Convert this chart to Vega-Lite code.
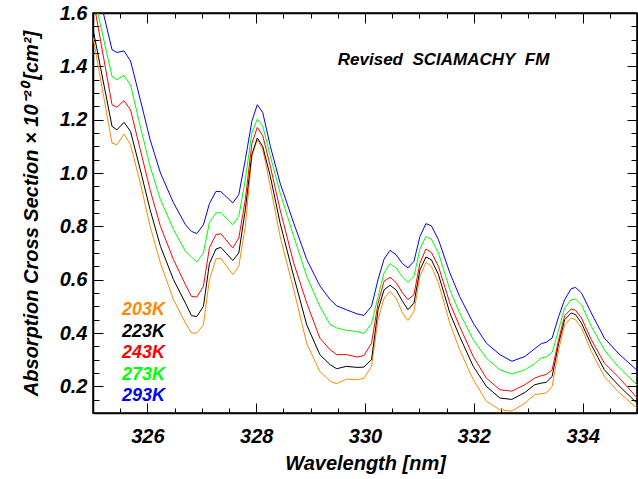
{
  "$schema": "https://vega.github.io/schema/vega-lite/v6.json",
  "autosize": {"type": "none"},
  "padding": {"left": 93, "top": 13, "right": 1, "bottom": 66},
  "width": 544,
  "height": 400,
  "background": "white",
  "config": {
    "view": {"stroke": "black", "strokeWidth": 1.5},
    "axis": {
      "grid": false,
      "domainColor": "black",
      "domainWidth": 1.5,
      "tickColor": "black",
      "tickWidth": 1,
      "labelColor": "black",
      "labelFont": "Liberation Sans",
      "labelFontStyle": "italic",
      "labelFontWeight": "bold",
      "labelFontSize": 20,
      "titleFont": "Liberation Sans",
      "titleFontStyle": "italic",
      "titleFontWeight": "bold",
      "titleFontSize": 20,
      "titleColor": "black"
    }
  },
  "data": {
    "values": [
      {"w": 325.00, "203K": 1.51, "223K": 1.54, "243K": 1.655, "273K": 1.68, "293K": 1.764},
      {"w": 325.35, "203K": 1.112, "223K": 1.175, "243K": 1.256, "273K": 1.362, "293K": 1.462},
      {"w": 325.44, "203K": 1.106, "223K": 1.162, "243K": 1.247, "273K": 1.35, "293K": 1.452},
      {"w": 325.57, "203K": 1.146, "223K": 1.19, "243K": 1.271, "273K": 1.366, "293K": 1.458},
      {"w": 325.69, "203K": 1.106, "223K": 1.156, "243K": 1.237, "273K": 1.33, "293K": 1.42},
      {"w": 325.87, "203K": 0.962, "223K": 1.012, "243K": 1.087, "273K": 1.175, "293K": 1.275},
      {"w": 326.05, "203K": 0.80, "223K": 0.862, "243K": 0.937, "273K": 1.025, "293K": 1.125},
      {"w": 326.24, "203K": 0.662, "223K": 0.725, "243K": 0.80, "273K": 0.90, "293K": 1.0},
      {"w": 326.48, "203K": 0.525, "223K": 0.60, "243K": 0.675, "273K": 0.788, "293K": 0.888},
      {"w": 326.70, "203K": 0.437, "223K": 0.512, "243K": 0.581, "273K": 0.706, "293K": 0.806},
      {"w": 326.81, "203K": 0.40, "223K": 0.465, "243K": 0.537, "273K": 0.685, "293K": 0.781},
      {"w": 326.91, "203K": 0.40, "223K": 0.462, "243K": 0.535, "273K": 0.666, "293K": 0.773},
      {"w": 327.03, "203K": 0.431, "223K": 0.50, "243K": 0.575, "273K": 0.70, "293K": 0.806},
      {"w": 327.14, "203K": 0.60, "223K": 0.66, "243K": 0.72, "273K": 0.815, "293K": 0.885},
      {"w": 327.26, "203K": 0.678, "223K": 0.715, "243K": 0.769, "273K": 0.85, "293K": 0.931},
      {"w": 327.35, "203K": 0.68, "223K": 0.721, "243K": 0.772, "273K": 0.852, "293K": 0.93},
      {"w": 327.57, "203K": 0.619, "223K": 0.672, "243K": 0.719, "273K": 0.806, "293K": 0.888},
      {"w": 327.68, "203K": 0.65, "223K": 0.70, "243K": 0.756, "273K": 0.837, "293K": 0.919},
      {"w": 327.80, "203K": 0.80, "223K": 0.862, "243K": 0.90, "273K": 0.975, "293K": 1.05},
      {"w": 327.92, "203K": 1.06, "223K": 1.07, "243K": 1.11, "273K": 1.15, "293K": 1.194},
      {"w": 328.02, "203K": 1.125, "223K": 1.131, "243K": 1.171, "273K": 1.202, "293K": 1.256},
      {"w": 328.12, "203K": 1.09, "223K": 1.10, "243K": 1.14, "273K": 1.177, "293K": 1.227},
      {"w": 328.26, "203K": 0.95, "223K": 0.987, "243K": 1.025, "273K": 1.062, "293K": 1.10},
      {"w": 328.44, "203K": 0.762, "223K": 0.812, "243K": 0.862, "273K": 0.925, "293K": 0.962},
      {"w": 328.69, "203K": 0.562, "223K": 0.612, "243K": 0.662, "273K": 0.762, "293K": 0.812},
      {"w": 328.93, "203K": 0.36, "223K": 0.43, "243K": 0.512, "273K": 0.612, "293K": 0.675},
      {"w": 329.17, "203K": 0.256, "223K": 0.319, "243K": 0.381, "273K": 0.50, "293K": 0.577},
      {"w": 329.36, "203K": 0.219, "223K": 0.281, "243K": 0.337, "273K": 0.431, "293K": 0.525},
      {"w": 329.48, "203K": 0.21, "223K": 0.266, "243K": 0.319, "273K": 0.419, "293K": 0.502},
      {"w": 329.66, "203K": 0.227, "223K": 0.275, "243K": 0.319, "273K": 0.41, "293K": 0.487},
      {"w": 329.85, "203K": 0.225, "223K": 0.271, "243K": 0.31, "273K": 0.406, "293K": 0.472},
      {"w": 329.98, "203K": 0.23, "223K": 0.272, "243K": 0.315, "273K": 0.398, "293K": 0.466},
      {"w": 330.12, "203K": 0.275, "223K": 0.30, "243K": 0.362, "273K": 0.435, "293K": 0.50},
      {"w": 330.24, "203K": 0.45, "223K": 0.487, "243K": 0.512, "273K": 0.537, "293K": 0.60},
      {"w": 330.35, "203K": 0.531, "223K": 0.562, "243K": 0.594, "273K": 0.625, "293K": 0.677},
      {"w": 330.46, "203K": 0.556, "223K": 0.579, "243K": 0.609, "273K": 0.66, "293K": 0.71},
      {"w": 330.57, "203K": 0.531, "223K": 0.562, "243K": 0.59, "273K": 0.644, "293K": 0.694},
      {"w": 330.69, "203K": 0.475, "223K": 0.519, "243K": 0.55, "273K": 0.61, "293K": 0.66},
      {"w": 330.79, "203K": 0.447, "223K": 0.487, "243K": 0.525, "273K": 0.59, "293K": 0.644},
      {"w": 330.90, "203K": 0.481, "223K": 0.512, "243K": 0.544, "273K": 0.612, "293K": 0.669},
      {"w": 331.01, "203K": 0.612, "223K": 0.637, "243K": 0.662, "273K": 0.715, "293K": 0.762},
      {"w": 331.12, "203K": 0.665, "223K": 0.685, "243K": 0.715, "273K": 0.762, "293K": 0.81},
      {"w": 331.22, "203K": 0.65, "223K": 0.675, "243K": 0.702, "273K": 0.752, "293K": 0.802},
      {"w": 331.35, "203K": 0.587, "223K": 0.619, "243K": 0.65, "273K": 0.70, "293K": 0.75},
      {"w": 331.56, "203K": 0.437, "223K": 0.475, "243K": 0.512, "273K": 0.562, "293K": 0.625},
      {"w": 331.74, "203K": 0.337, "223K": 0.387, "243K": 0.425, "273K": 0.475, "293K": 0.537},
      {"w": 331.99, "203K": 0.225, "223K": 0.275, "243K": 0.312, "273K": 0.375, "293K": 0.437},
      {"w": 332.23, "203K": 0.144, "223K": 0.20, "243K": 0.231, "273K": 0.306, "293K": 0.362},
      {"w": 332.48, "203K": 0.112, "223K": 0.156, "243K": 0.187, "273K": 0.262, "293K": 0.319},
      {"w": 332.70, "203K": 0.107, "223K": 0.151, "243K": 0.182, "273K": 0.246, "293K": 0.294},
      {"w": 332.94, "203K": 0.137, "223K": 0.177, "243K": 0.206, "273K": 0.262, "293K": 0.312},
      {"w": 333.12, "203K": 0.169, "223K": 0.206, "243K": 0.231, "273K": 0.285, "293K": 0.341},
      {"w": 333.24, "203K": 0.172, "223K": 0.212, "243K": 0.24, "273K": 0.306, "293K": 0.36},
      {"w": 333.33, "203K": 0.175, "223K": 0.215, "243K": 0.244, "273K": 0.31, "293K": 0.365},
      {"w": 333.44, "203K": 0.20, "223K": 0.237, "243K": 0.262, "273K": 0.327, "293K": 0.381},
      {"w": 333.56, "203K": 0.337, "223K": 0.362, "243K": 0.375, "273K": 0.412, "293K": 0.462},
      {"w": 333.67, "203K": 0.431, "223K": 0.45, "243K": 0.465, "273K": 0.494, "293K": 0.525},
      {"w": 333.79, "203K": 0.456, "223K": 0.475, "243K": 0.49, "273K": 0.525, "293K": 0.566},
      {"w": 333.87, "203K": 0.45, "223K": 0.469, "243K": 0.485, "273K": 0.527, "293K": 0.571},
      {"w": 333.98, "203K": 0.419, "223K": 0.437, "243K": 0.456, "273K": 0.506, "293K": 0.55},
      {"w": 334.16, "203K": 0.331, "223K": 0.356, "243K": 0.375, "273K": 0.425, "293K": 0.475},
      {"w": 334.40, "203K": 0.237, "223K": 0.262, "243K": 0.287, "273K": 0.337, "293K": 0.381},
      {"w": 334.65, "203K": 0.181, "223K": 0.206, "243K": 0.237, "273K": 0.275, "293K": 0.325},
      {"w": 335.00, "203K": 0.118, "223K": 0.137, "243K": 0.157, "273K": 0.205, "293K": 0.26}
    ]
  },
  "transform": [
    {"fold": ["203K", "223K", "243K", "273K", "293K"], "as": ["T", "v"]}
  ],
  "resolve": {
    "scale": {"x": "independent", "y": "independent"},
    "axis": {"x": "independent", "y": "independent"}
  },
  "layer": [
    {
      "mark": {"type": "line", "strokeWidth": 1, "clip": true},
      "encoding": {
        "x": {
          "field": "w", "type": "quantitative",
          "scale": {"domain": [325, 335], "nice": false, "zero": false},
          "axis": {
            "orient": "bottom",
            "values": [326, 328, 330, 332, 334],
            "format": "d",
            "tickSize": -10,
            "labelPadding": 23,
            "labelFlush": false,
            "labelOverlap": false,
            "title": "Wavelength [nm]",
            "titlePadding": 7
          }
        },
        "y": {
          "field": "v", "type": "quantitative",
          "scale": {"domain": [0.1, 1.6], "nice": false, "zero": false},
          "axis": {
            "orient": "left",
            "values": [0.2, 0.4, 0.6, 0.8, 1.0, 1.2, 1.4, 1.6],
            "format": ".1f",
            "tickSize": -10,
            "labelPadding": 16,
            "labelFlush": false,
            "labelOverlap": false,
            "title": "Absorption Cross Section × 10⁻²⁰\u2009[cm²]",
            "titlePadding": 18
          }
        },
        "color": {
          "field": "T", "type": "nominal",
          "scale": {"domain": ["203K", "223K", "243K", "273K", "293K"], "range": ["#ff8800", "#000000", "#ff0000", "#00ff00", "#0000ff"]},
          "legend": {
            "orient": "none",
            "legendX": 11,
            "legendY": 288,
            "title": null,
            "padding": 0,
            "symbolSize": 0,
            "symbolStrokeWidth": 0,
            "symbolOpacity": 0,
            "labelOffset": 0,
            "rowPadding": 3.5,
            "labelFont": "Liberation Sans",
            "labelFontStyle": "italic",
            "labelFontWeight": "bold",
            "labelFontSize": 18,
            "encode": {"labels": {"update": {"fill": {"scale": "color", "field": "value"}}}}
          }
        }
      }
    },
    {
      "mark": {"type": "line", "strokeOpacity": 0},
      "encoding": {
        "x": {
          "field": "w", "type": "quantitative",
          "scale": {"domain": [325, 335], "nice": false, "zero": false},
          "axis": {"orient": "top", "values": [326, 328, 330, 332, 334], "labels": false, "title": null, "tickSize": -10}
        },
        "y": {
          "field": "v", "type": "quantitative",
          "scale": {"domain": [0.1, 1.6], "nice": false, "zero": false},
          "axis": {"orient": "right", "values": [0.2, 0.4, 0.6, 0.8, 1.0, 1.2, 1.4], "labels": false, "title": null, "tickSize": -10}
        },
        "detail": {"field": "T", "type": "nominal"}
      }
    },
    {
      "mark": {"type": "line", "strokeOpacity": 0},
      "encoding": {
        "x": {
          "field": "w", "type": "quantitative",
          "scale": {"domain": [325, 335], "nice": false, "zero": false},
          "axis": {"orient": "bottom", "values": [325.5, 326.5, 327, 327.5, 328.5, 329, 329.5, 330.5, 331, 331.5, 332.5, 333, 333.5, 334.5], "labels": false, "title": null, "tickSize": -5, "domain": false}
        },
        "y": {
          "field": "v", "type": "quantitative",
          "scale": {"domain": [0.1, 1.6], "nice": false, "zero": false},
          "axis": {"orient": "left", "values": [0.15, 0.25, 0.3, 0.35, 0.45, 0.5, 0.55, 0.65, 0.7, 0.75, 0.85, 0.9, 0.95, 1.05, 1.1, 1.15, 1.25, 1.3, 1.35, 1.45, 1.5, 1.55], "labels": false, "title": null, "tickSize": -6, "domain": false}
        },
        "detail": {"field": "T", "type": "nominal"}
      }
    },
    {
      "mark": {"type": "line", "strokeOpacity": 0},
      "encoding": {
        "x": {
          "field": "w", "type": "quantitative",
          "scale": {"domain": [325, 335], "nice": false, "zero": false},
          "axis": {"orient": "top", "values": [325.5, 326.5, 327, 327.5, 328.5, 329, 329.5, 330.5, 331, 331.5, 332.5, 333, 333.5, 334.5], "labels": false, "title": null, "tickSize": -5, "domain": false}
        },
        "y": {
          "field": "v", "type": "quantitative",
          "scale": {"domain": [0.1, 1.6], "nice": false, "zero": false},
          "axis": {"orient": "right", "values": [0.15, 0.25, 0.3, 0.35, 0.45, 0.5, 0.55, 0.65, 0.7, 0.75, 0.85, 0.9, 0.95, 1.05, 1.1, 1.15, 1.25, 1.3, 1.35, 1.45, 1.5, 1.55], "labels": false, "title": null, "tickSize": -6, "domain": false}
        },
        "detail": {"field": "T", "type": "nominal"}
      }
    },
    {
      "data": {"values": [{"label": "Revised\u00a0\u00a0SCIAMACHY\u00a0\u00a0FM"}]},
      "mark": {"type": "text", "align": "left", "baseline": "middle", "font": "Liberation Sans", "fontStyle": "italic", "fontWeight": "bold", "fontSize": 17, "color": "black"},
      "encoding": {
        "x": {"datum": 329.5, "type": "quantitative", "scale": {"domain": [325, 335], "nice": false, "zero": false}, "axis": null},
        "y": {"datum": 1.425, "type": "quantitative", "scale": {"domain": [0.1, 1.6], "nice": false, "zero": false}, "axis": null},
        "text": {"field": "label"}
      }
    }
  ]
}
